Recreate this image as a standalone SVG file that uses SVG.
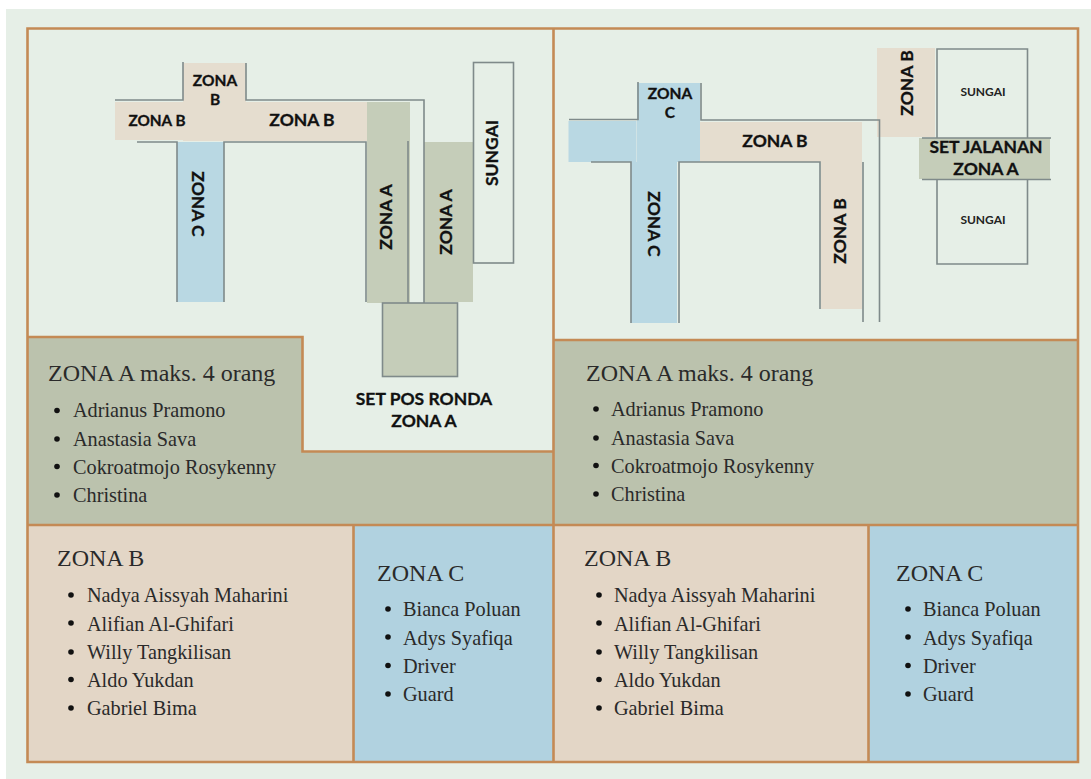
<svg xmlns="http://www.w3.org/2000/svg" width="1091" height="779" viewBox="0 0 1091 779">
<style>
.panel{fill:#e6efe7}
.za{fill:#bbc2ad}.zb{fill:#e3d6c6}.zc{fill:#b1d2e0}
.frame{stroke:#c48a55;stroke-width:2.6;fill:none}
.ma{fill:#c5cdb9}.mb{fill:#e5ddcf}.mc{fill:#b9d8e3}
.wall{stroke:#7f8a8a;stroke-width:1.6;fill:none}
.h{font:24px "Liberation Serif",serif;fill:#2a2a2a;transform:translateY(.8px)}
.i{font:20.25px "Liberation Serif",serif;fill:#2a2a2a;transform:translateY(.8px)}
.m{font:700 17.5px "Lato",sans-serif;fill:#111;text-anchor:middle;stroke:#111;stroke-width:.3}
.s{font:700 12px "Lato",sans-serif;fill:#222;text-anchor:middle}
.b{fill:#111}
</style>
<rect x="6" y="9" width="1085" height="770" class="panel"/>
<g id="zone-fills">
<path class="za" d="M27.5 337H302.5V451.5H553.5V525H27.5Z"/>
<rect class="za" x="553.5" y="340" width="524.5" height="184"/>
<rect class="zb" x="27.5" y="525" width="326" height="237"/>
<rect class="zc" x="353.5" y="525" width="200" height="237"/>
<rect class="zb" x="553.5" y="525" width="315" height="237"/>
<rect class="zc" x="868.5" y="525" width="209.5" height="237"/>
</g>
<g id="map-left">
<rect class="mb" x="115" y="102" width="70" height="38"/>
<rect class="mb" x="183" y="63" width="63" height="78"/>
<rect class="mb" x="246" y="102" width="121" height="39"/>
<rect class="mc" x="177" y="142" width="47" height="160"/>
<rect class="ma" x="367" y="102" width="43" height="201"/>
<rect class="ma" x="424" y="142" width="49" height="160"/>
<rect x="473.5" y="62.5" width="40" height="200.5" fill="#e6efe7"/>
<rect class="ma" x="382.5" y="303" width="75" height="73.5"/>
</g>
<g id="map-right">
<rect class="mc" x="568.5" y="121" width="68" height="41"/>
<rect class="mc" x="637" y="83" width="63" height="79"/>
<rect class="mc" x="631" y="162" width="46" height="161"/>
<rect class="mb" x="700" y="122" width="162" height="40"/>
<rect class="mb" x="821" y="162" width="41" height="147"/>
<rect class="mb" x="877" y="48" width="58" height="89"/>
<rect class="ma" x="919" y="138" width="131" height="41"/>
</g>
<g id="connectors">
<path class="wall" d="M115 100H183V62M246 63V100H424V303M137 142H177V302M224 302V142H366V302M408 141V303"/>
<rect class="wall" x="473.5" y="62.5" width="40" height="200.5"/>
<rect class="wall" x="382.5" y="303" width="75" height="73.5"/>
<path class="wall" d="M569 119.5H638V82M701 83V120H879.5V322M591 162H631V323M679 323V162H820V309M863 162V322"/>
<path class="wall" d="M937 138V49H1027.5V138M937 180V264H1027.5V180M922 138H1051M922 179.5H1051"/>
</g>
<g id="frames">
<path class="frame" d="M27.5 28.5H1078V762H27.5ZM553.5 28.5V762M27.5 337H302.5V451.5H553.5M553.5 340H1078M27.5 525H1078M353.5 525V762M868.5 525V762"/>
</g>
<g id="map-labels">
<text class="m" x="215" y="86" style="font-size:15.5px">ZONA</text>
<text class="m" x="215" y="105" style="font-size:15.5px">B</text>
<text class="m" x="157" y="126" style="font-size:15.3px">ZONA B</text>
<text class="m" x="302" y="126">ZONA B</text>
<text class="m" transform="translate(192 204) rotate(90)">ZONA C</text>
<text class="m" transform="translate(391.5 217) rotate(-90)">ZONA A</text>
<text class="m" transform="translate(451.5 222) rotate(-90)">ZONA A</text>
<text class="m" transform="translate(498 153) rotate(-90)">SUNGAI</text>
<text class="m" x="424" y="405">SET POS RONDA</text>
<text class="m" x="424" y="426.5">ZONA A</text>
<text class="m" x="670" y="99" style="font-size:15.5px">ZONA</text>
<text class="m" x="670" y="118" style="font-size:15.5px">C</text>
<text class="m" x="775" y="147">ZONA B</text>
<text class="m" transform="translate(648 224) rotate(90)">ZONA C</text>
<text class="m" transform="translate(846 231) rotate(-90)">ZONA B</text>
<text class="m" transform="translate(913 83) rotate(-90)">ZONA B</text>
<text class="s" x="983" y="95.5">SUNGAI</text>
<text class="s" x="983" y="223.5">SUNGAI</text>
<text class="m" x="986" y="153">SET JALANAN</text>
<text class="m" x="986" y="175">ZONA A</text>
</g>
<g id="list-a-left">
<text class="h" x="48" y="380">ZONA A maks. 4 orang</text>
<circle class="b" cx="57" cy="410.5" r="2.8"/><text class="i" x="73" y="416.5">Adrianus Pramono</text>
<circle class="b" cx="57" cy="439" r="2.8"/><text class="i" x="73" y="445">Anastasia Sava</text>
<circle class="b" cx="57" cy="466.5" r="2.8"/><text class="i" x="73" y="473">Cokroatmojo Rosykenny</text>
<circle class="b" cx="57" cy="495" r="2.8"/><text class="i" x="73" y="501">Christina</text>
</g>
<g id="list-a-right">
<text class="h" x="586" y="380">ZONA A maks. 4 orang</text>
<circle class="b" cx="596" cy="409" r="2.8"/><text class="i" x="611" y="415">Adrianus Pramono</text>
<circle class="b" cx="596" cy="438" r="2.8"/><text class="i" x="611" y="444">Anastasia Sava</text>
<circle class="b" cx="596" cy="465.5" r="2.8"/><text class="i" x="611" y="472">Cokroatmojo Rosykenny</text>
<circle class="b" cx="596" cy="494" r="2.8"/><text class="i" x="611" y="500">Christina</text>
</g>
<g id="list-b-left">
<text class="h" x="57" y="565">ZONA B</text>
<circle class="b" cx="71" cy="595" r="2.8"/><text class="i" x="87" y="601">Nadya Aissyah Maharini</text>
<circle class="b" cx="71" cy="623" r="2.8"/><text class="i" x="87" y="630">Alifian Al-Ghifari</text>
<circle class="b" cx="71" cy="652" r="2.8"/><text class="i" x="87" y="658">Willy Tangkilisan</text>
<circle class="b" cx="71" cy="679.5" r="2.8"/><text class="i" x="87" y="686">Aldo Yukdan</text>
<circle class="b" cx="71" cy="708" r="2.8"/><text class="i" x="87" y="714">Gabriel Bima</text>
</g>
<g id="list-c-left">
<text class="h" x="377" y="580">ZONA C</text>
<circle class="b" cx="388" cy="609" r="2.8"/><text class="i" x="403" y="615.5">Bianca Poluan</text>
<circle class="b" cx="388" cy="637" r="2.8"/><text class="i" x="403" y="644">Adys Syafiqa</text>
<circle class="b" cx="388" cy="665.5" r="2.8"/><text class="i" x="403" y="672">Driver</text>
<circle class="b" cx="388" cy="694" r="2.8"/><text class="i" x="403" y="700">Guard</text>
</g>
<g id="list-b-right">
<text class="h" x="584" y="565">ZONA B</text>
<circle class="b" cx="599" cy="595" r="2.8"/><text class="i" x="614" y="601">Nadya Aissyah Maharini</text>
<circle class="b" cx="599" cy="623" r="2.8"/><text class="i" x="614" y="630">Alifian Al-Ghifari</text>
<circle class="b" cx="599" cy="652" r="2.8"/><text class="i" x="614" y="658">Willy Tangkilisan</text>
<circle class="b" cx="599" cy="679.5" r="2.8"/><text class="i" x="614" y="686">Aldo Yukdan</text>
<circle class="b" cx="599" cy="708" r="2.8"/><text class="i" x="614" y="714">Gabriel Bima</text>
</g>
<g id="list-c-right">
<text class="h" x="896" y="580">ZONA C</text>
<circle class="b" cx="908" cy="609" r="2.8"/><text class="i" x="923" y="615.5">Bianca Poluan</text>
<circle class="b" cx="908" cy="637" r="2.8"/><text class="i" x="923" y="644">Adys Syafiqa</text>
<circle class="b" cx="908" cy="665.5" r="2.8"/><text class="i" x="923" y="672">Driver</text>
<circle class="b" cx="908" cy="694" r="2.8"/><text class="i" x="923" y="700">Guard</text>
</g>
</svg>
